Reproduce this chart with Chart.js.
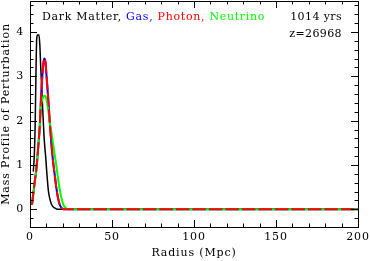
<!DOCTYPE html>
<html>
<head>
<meta charset="utf-8">
<script src="https://cdn.jsdelivr.net/npm/chart.js@4.4.1/dist/chart.umd.min.js"></script>
<style>
  html, body { margin: 0; padding: 0; background: #fff; }
  #wrap { width: 370px; height: 261px; }
</style>
</head>
<body>
<div id="wrap"><canvas id="grafico-massa"></canvas></div>
<script>
// valores (raio em Mpc)
const raioMateriaEscura = [2.0, 2.6, 3.2, 3.6, 4.1, 4.6, 5.5, 6.0, 6.5, 7.0, 7.7, 8.7, 9.7, 10.1, 11.2, 12, 13, 14, 15, 16, 17, 25, 200]
const massaMateriaEscura = [0.85, 1.2, 2.0, 3.0, 3.85, 3.93, 3.93, 3.7, 3.25, 2.85, 2.3, 1.57, 1.12, 0.9, 0.42, 0.25, 0.12, 0.06, 0.03, 0.01, 0, 0, 0]

const raioGas = [1.2, 2, 3, 4, 5, 6, 6.7, 7.5, 8.2, 8.7, 9.5, 10, 11, 12, 13, 14, 15, 16, 17, 18, 19, 20, 21, 25, 200]
const massaGas = [0.1, 0.35, 0.65, 0.95, 1.4, 1.9, 2.5, 3.0, 3.3, 3.4, 3.3, 3.05, 2.55, 2.0, 1.5, 1.1, 0.8, 0.5, 0.27, 0.12, 0.04, 0.01, 0, 0, 0]

const raioFoton = [1.2, 2, 3, 4, 5, 6, 6.7, 7.5, 8.2, 8.7, 9.5, 10, 11, 12, 13, 14, 15, 16, 17, 18, 19, 20, 21, 25, 200]
const massaFoton = [0.1, 0.35, 0.65, 0.95, 1.4, 1.9, 2.5, 3.0, 3.3, 3.4, 3.3, 3.05, 2.55, 2.0, 1.5, 1.1, 0.8, 0.5, 0.27, 0.12, 0.04, 0.01, 0, 0, 0]

const raioNeutrino = [1.2, 2, 3, 4, 5, 6, 6.6, 7.2, 8, 8.7, 9.5, 10.1, 11, 12, 13, 14, 15, 16, 17, 18, 19, 20, 21, 22, 23, 25, 200]
const massaNeutrino = [0.1, 0.35, 0.65, 0.95, 1.4, 1.9, 2.3, 2.45, 2.53, 2.56, 2.55, 2.47, 2.27, 1.98, 1.75, 1.5, 1.25, 1.0, 0.72, 0.48, 0.28, 0.14, 0.06, 0.02, 0, 0, 0]

const ticksX = [0, 50, 100, 150, 200]
const ticksY = [0, 1, 2, 3, 4]

const legenda = [
    { texto: "Dark Matter, ", cor: "#000000" },
    { texto: "Gas, ", cor: "#0000ff" },
    { texto: "Photon, ", cor: "#ff0000" },
    { texto: "Neutrino", cor: "#00ff00" }
]
const idade = "1014 yrs"
const redshift = "z=26968"

const fonte = "DejaVu Serif"

const pontos = (xs, ys) => xs.map((x, i) => ({ x: x, y: ys[i] }))

// o canvas perde o letterSpacing quando e redimensionado, entao aplica antes de desenhar
const espacamentoPlugin = {
    id: "espacamento",
    beforeDraw(chart) {
        chart.ctx.letterSpacing = "0.85px"
    }
}

const molduraPlugin = {
    id: "moldura",
    afterDraw(chart) {
        const { ctx, chartArea: a, scales: { x, y } } = chart
        ctx.save()
        ctx.strokeStyle = "#000"
        ctx.lineWidth = 1
        ctx.strokeRect(Math.round(a.left) + 0.5, Math.round(a.top) + 0.5, Math.round(a.right - a.left), Math.round(a.bottom - a.top))

        ctx.beginPath()
        for (let v = 0; v <= 200; v += 10) {
            const px = Math.round(x.getPixelForValue(v)) + 0.5
            const len = v % 50 == 0 ? 7 : 3.5
            ctx.moveTo(px, a.bottom); ctx.lineTo(px, a.bottom - len)
            ctx.moveTo(px, a.top); ctx.lineTo(px, a.top + len)
        }
        for (let k = -2; k <= 23; k++) {
            const v = k * 0.2
            const py = Math.round(y.getPixelForValue(v)) + 0.5
            const len = k % 5 == 0 ? 7 : 3.5
            ctx.moveTo(a.left, py); ctx.lineTo(a.left + len, py)
            ctx.moveTo(a.right, py); ctx.lineTo(a.right - len, py)
        }
        ctx.stroke()

        ctx.font = `11px "${fonte}"`
        ctx.letterSpacing = "0.7px"
        ctx.textBaseline = "alphabetic"
        let xt = 42
        legenda.forEach(item => {
            ctx.fillStyle = item.cor
            ctx.fillText(item.texto, xt, 20)
            xt += ctx.measureText(item.texto).width
        })
        ctx.fillStyle = "#000"
        ctx.letterSpacing = "0.4px"
        ctx.textAlign = "right"
        ctx.fillText(idade, 342, 20)
        ctx.fillText(redshift, 342, 37)
        ctx.restore()
    }
}

new Chart(
    document.getElementById("grafico-massa"),
    {
        type: "line",
        data: {
            datasets: [
                {
                    label: "Dark Matter",
                    data: pontos(raioMateriaEscura, massaMateriaEscura),
                    borderColor: "#000000",
                    borderWidth: 1.5,
                    order: 3,
                    cubicInterpolationMode: "monotone"
                },
                {
                    label: "Gas",
                    data: pontos(raioGas, massaGas),
                    borderColor: "#0000ff",
                    borderWidth: 2,
                    order: 2,
                    cubicInterpolationMode: "monotone"
                },
                {
                    label: "Neutrino",
                    data: pontos(raioNeutrino, massaNeutrino),
                    borderColor: "#00ff00",
                    borderWidth: 2,
                    order: 1,
                    cubicInterpolationMode: "monotone"
                },
                {
                    label: "Photon",
                    data: pontos(raioFoton, massaFoton),
                    borderColor: "#ff0000",
                    borderWidth: 2,
                    borderDash: [13.5, 3],
                    order: 0,
                    cubicInterpolationMode: "monotone"
                }
            ]
        },
        options: {
            responsive: true,
            maintainAspectRatio: false,
            animation: false,
            elements: { point: { radius: 0 } },
            layout: { padding: { top: 1, right: 12, left: 0, bottom: 0 } },
            plugins: {
                legend: { display: false },
                tooltip: { enabled: false }
            },
            scales: {
                x: {
                    type: "linear",
                    min: 0,
                    max: 200,
                    afterBuildTicks: s => { s.ticks = ticksX.map(v => ({ value: v })) },
                    afterFit: s => { s.height = 34; s.paddingLeft = 0; s.paddingRight = 0 },
                    grid: { display: false, drawTicks: false },
                    border: { display: false },
                    ticks: { color: "#000", font: { family: fonte, size: 11 }, padding: 4, maxRotation: 0 },
                    title: { display: true, text: "Radius (Mpc)", color: "#000", font: { family: fonte, size: 11 }, padding: { top: 0, bottom: 1 } }
                },
                y: {
                    min: -0.4,
                    max: 4.7,
                    afterBuildTicks: s => { s.ticks = ticksY.map(v => ({ value: v })) },
                    afterFit: s => { s.width = 30; s.paddingTop = 0; s.paddingBottom = 0 },
                    grid: { display: false, drawTicks: false },
                    border: { display: false },
                    ticks: { color: "#000", font: { family: fonte, size: 11 }, padding: 6 },
                    title: { display: true, text: "Mass Profile of Perturbation", color: "#000", font: { family: fonte, size: 11 }, padding: 0 }
                }
            }
        },
        plugins: [espacamentoPlugin, molduraPlugin]
    }
)
</script>
</body>
</html>
